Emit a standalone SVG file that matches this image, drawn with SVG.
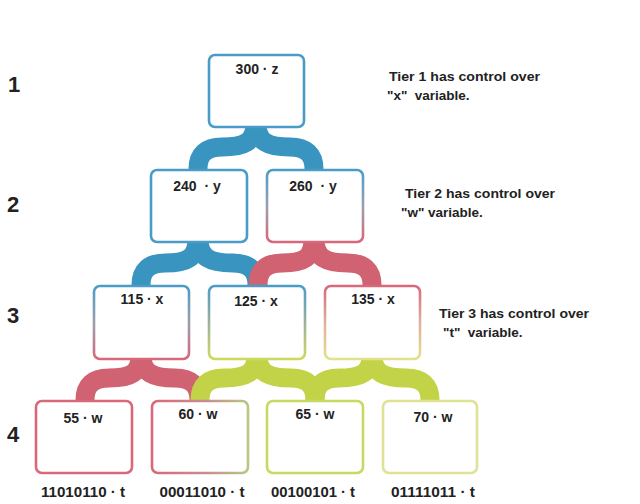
<svg xmlns="http://www.w3.org/2000/svg" width="640" height="504" viewBox="0 0 640 504">
<style>
.box{fill:#fff;stroke-width:2.6}
.lbl{font-family:"Liberation Sans",Arial,sans-serif;font-weight:bold;font-size:14px;fill:#222;text-anchor:middle}
.bin{font-family:"Liberation Sans",Arial,sans-serif;font-weight:bold;font-size:14px;fill:#222;text-anchor:middle}
.note{font-family:"Liberation Sans",Arial,sans-serif;font-weight:bold;font-size:13.5px;fill:#222}
.tier{font-family:"Liberation Sans",Arial,sans-serif;font-weight:bold;font-size:22px;fill:#222}
.c{fill:none;stroke-width:19}
.blue{stroke:#3a94c0}
.pink{stroke:#d06272}
.green{stroke:#c3d347}
</style>
<defs>
<linearGradient id="gBP" x1="0" y1="0" x2="0" y2="1"><stop offset="0" stop-color="#4a9cc8"/><stop offset="0.5" stop-color="#9aa0b0"/><stop offset="1" stop-color="#d8687a"/></linearGradient>
<linearGradient id="gBG" x1="0" y1="0" x2="0" y2="1"><stop offset="0" stop-color="#4a9cc8"/><stop offset="0.5" stop-color="#9ab0a0"/><stop offset="1" stop-color="#cdda5c"/></linearGradient>
<linearGradient id="gPY" x1="0" y1="0" x2="0" y2="1"><stop offset="0" stop-color="#d8687a"/><stop offset="0.5" stop-color="#e0b0a0"/><stop offset="1" stop-color="#e2e28a"/></linearGradient>
<linearGradient id="gPG" x1="0" y1="0" x2="1" y2="0"><stop offset="0" stop-color="#d8687a"/><stop offset="0.6" stop-color="#c89090"/><stop offset="1" stop-color="#b8c880"/></linearGradient>
</defs>
<g id="connectors">
<path class="c blue" d="M198,173 L198,169 Q198,147 222,147 C244,147 255,142 255,124"/>
<path class="c blue" d="M314,173 L314,169 Q314,147 290,147 C268,147 257,142 257,124"/>
<path class="c blue" d="M141,289 L141,285 Q141,263 165,263 C187,263 197,258 197,239"/>
<path class="c blue" d="M257,289 L257,285 Q257,263 233,263 C210,263 199,258 199,239"/>
<path class="c pink" d="M372,289 L372,285 Q372,263 348,263 C326,263 315,258 315,239"/>
<path class="c pink" d="M258,289 L258,285 Q258,263 282,263 C304,263 313,258 313,239"/>
<path class="c pink" d="M85,404 L85,400 Q85,378 109,378 C131,378 140,373 140,356"/>
<path class="c pink" d="M199,404 L199,400 Q199,378 175,378 C153,378 142,373 142,356"/>
<path class="c green" d="M430,404 L430,400 Q430,378 406,378 C384,378 373,373 373,356"/>
<path class="c green" d="M315,404 L315,400 Q315,378 339,378 C361,378 371,373 371,356"/>
<path class="c green" d="M315,404 L315,400 Q315,378 291,378 C269,378 258,373 258,356"/>
<path class="c green" d="M200,404 L200,400 Q200,378 224,378 C246,378 256,373 256,356"/>
</g>
<g id="n300"><rect class="box" x="209" y="55" width="95" height="72" rx="6" stroke="#4a9cc8"/><text class="lbl" x="257" y="74">300 · z</text></g>
<g id="n240"><rect class="box" x="151" y="170" width="96" height="72" rx="6" stroke="#4a9cc8"/><text class="lbl" x="197" y="191" xml:space="preserve">240  · y</text></g>
<g id="n260"><rect class="box" x="267" y="170" width="96" height="72" rx="6" stroke="url(#gBP)"/><text class="lbl" x="313" y="191" xml:space="preserve">260  · y</text></g>
<g id="n115"><rect class="box" x="94" y="286" width="95" height="73" rx="6" stroke="url(#gBP)"/><text class="lbl" x="142" y="304">115 · x</text></g>
<g id="n125"><rect class="box" x="209" y="286" width="96" height="73" rx="6" stroke="url(#gBG)"/><text class="lbl" x="256" y="306">125 · x</text></g>
<g id="n135"><rect class="box" x="325" y="286" width="95" height="73" rx="6" stroke="url(#gPY)"/><text class="lbl" x="373" y="304">135 · x</text></g>
<g id="n55"><rect class="box" x="36" y="401" width="96" height="72" rx="6" stroke="#d8687a"/><text class="lbl" x="83" y="423">55 · w</text></g>
<g id="n60"><rect class="box" x="152" y="401" width="96" height="72" rx="6" stroke="url(#gPG)"/><text class="lbl" x="198" y="419">60 · w</text></g>
<g id="n65"><rect class="box" x="267" y="401" width="96" height="72" rx="6" stroke="#c8d860"/><text class="lbl" x="315" y="419">65 · w</text></g>
<g id="n70"><rect class="box" x="383" y="401" width="94" height="72" rx="6" stroke="#dfe294"/><text class="lbl" x="433" y="422">70 · w</text></g>
<g id="labels">
<text class="bin" x="83" y="497" textLength="84" lengthAdjust="spacingAndGlyphs">11010110 · t</text>
<text class="bin" x="202" y="497" textLength="85" lengthAdjust="spacingAndGlyphs">00011010 · t</text>
<text class="bin" x="313" y="497" textLength="84" lengthAdjust="spacingAndGlyphs">00100101 · t</text>
<text class="bin" x="433" y="497" textLength="84" lengthAdjust="spacingAndGlyphs">01111011 · t</text>
<text class="note" x="389" y="81" textLength="151" lengthAdjust="spacingAndGlyphs">Tier 1 has control over</text>
<text class="note" x="387" y="100" xml:space="preserve">"x"  variable.</text>
<text class="note" x="405" y="198" textLength="150" lengthAdjust="spacingAndGlyphs">Tier 2 has control over</text>
<text class="note" x="401" y="217">"w" variable.</text>
<text class="note" x="439" y="318" textLength="150" lengthAdjust="spacingAndGlyphs">Tier 3 has control over</text>
<text class="note" x="443" y="337" xml:space="preserve">"t"  variable.</text>
<text class="tier" x="8" y="92">1</text>
<text class="tier" x="7" y="212">2</text>
<text class="tier" x="7" y="323">3</text>
<text class="tier" x="7" y="442">4</text>
</g>
</svg>
